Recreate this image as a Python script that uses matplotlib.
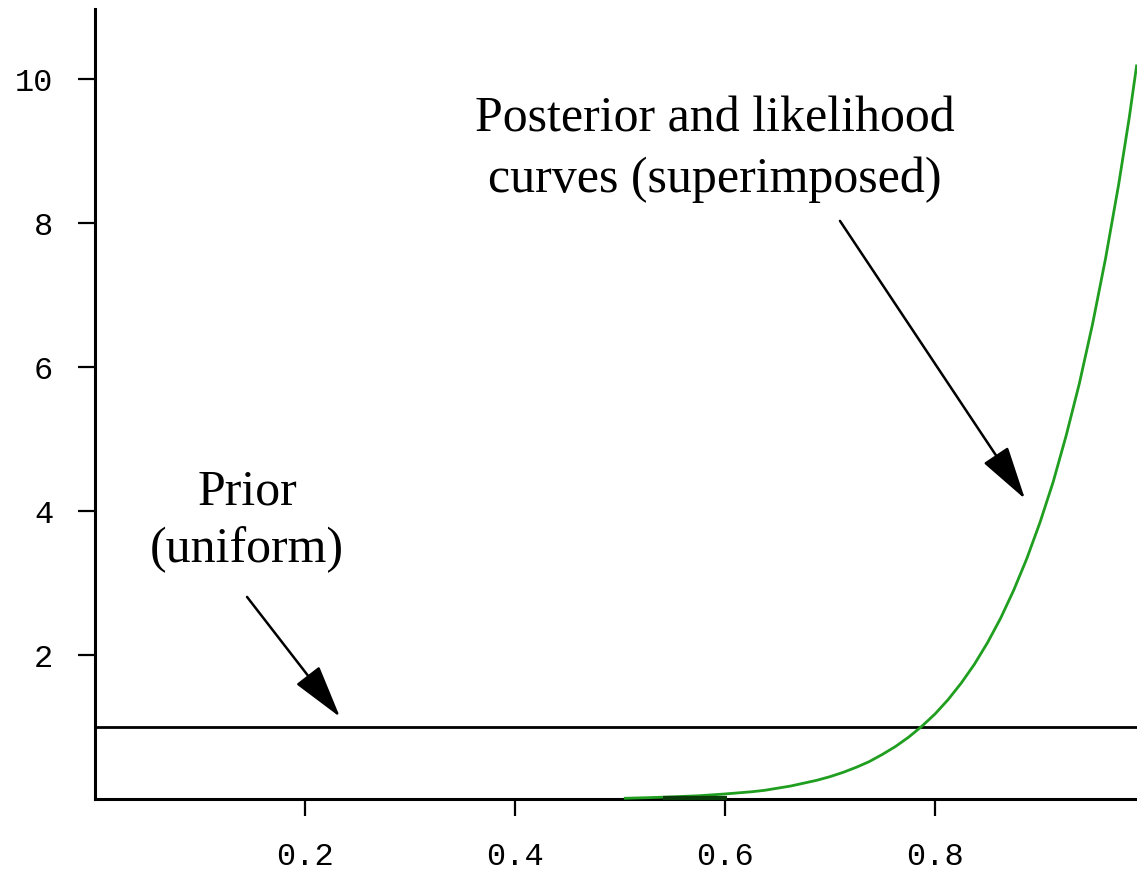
import matplotlib.pyplot as plt

# posterior / likelihood density over the proportion p
p_vals = [0.505, 0.53, 0.55, 0.575, 0.60, 0.625, 0.6375, 0.65, 0.6625, 0.675,
          0.6875, 0.70, 0.7125, 0.725, 0.7375, 0.75, 0.7625, 0.775, 0.7875,
          0.80, 0.8125, 0.825, 0.8375, 0.85, 0.8625, 0.875, 0.8875, 0.90,
          0.9125, 0.925, 0.9375, 0.95, 0.9625, 0.975, 0.985, 0.992]
density = [0.01, 0.02, 0.03, 0.045, 0.07, 0.10, 0.12, 0.15, 0.18, 0.22,
           0.26, 0.31, 0.37, 0.44, 0.52, 0.62, 0.73, 0.86, 1.01,
           1.18, 1.38, 1.61, 1.87, 2.17, 2.51, 2.90, 3.34, 3.84,
           4.40, 5.05, 5.77, 6.59, 7.51, 8.54, 9.46, 10.18]

# flat prior
prior_x = [0.0, 0.9924]
prior_y = [1.0, 1.0]

# short dark stretch where the curve sits on the axis
flat_x = [0.541, 0.602]
flat_y = [0.0, 0.0]

x_ticks = [0.2, 0.4, 0.6, 0.8]
y_ticks = [2, 4, 6, 8, 10]

fig = plt.figure(figsize=(11.37, 8.7), dpi=100)
ax = fig.add_axes([95 / 1137, 70 / 870, 1042 / 1137, 790 / 870])

ax.plot(prior_x, prior_y, color='black', lw=2.0, solid_capstyle='butt')
ax.plot(p_vals, density, color='#1f9e1f', lw=2.0, zorder=3, clip_on=False)
ax.plot(flat_x, [v + 0.02 for v in flat_y], color='#0a3a0a', lw=3.0,
        solid_capstyle='butt', zorder=3, clip_on=False)

ax.set_xlim(0, 0.9924)
ax.set_ylim(0, 10.97)

for side in ['top', 'right']:
    ax.spines[side].set_visible(False)
for side in ['left', 'bottom']:
    ax.spines[side].set_linewidth(2.2)

ax.set_xticks(x_ticks)
ax.set_xticklabels([f'{v:.1f}' for v in x_ticks])
ax.set_yticks(y_ticks)
ax.set_yticklabels([str(v) for v in y_ticks])
ax.tick_params(direction='out', length=12, width=1.6, pad=18,
               labelsize=23, colors='black')
for lbl in ax.get_xticklabels() + ax.get_yticklabels():
    lbl.set_family(['Liberation Mono', 'DejaVu Sans Mono'])

serif = ['Liberation Serif', 'DejaVu Serif']
arrow = dict(arrowstyle='-|>,head_length=0.8,head_width=0.22', color='black',
             lw=1.8, mutation_scale=42, shrinkA=0, shrinkB=0)

ax.text(0.1448, 3.875, 'Prior\n(uniform)', ha='center', va='center',
        fontsize=36, family=serif, linespacing=1.3)
ax.annotate('', xy=(0.2333, 1.139), xytext=(0.1448, 2.806), arrowprops=arrow)

ax.text(0.5905, 9.03, 'Posterior and likelihood\ncurves (superimposed)',
        ha='center', va='center', fontsize=36, family=serif, linespacing=1.4)
ax.annotate('', xy=(0.8857, 4.167), xytext=(0.7095, 8.028), arrowprops=arrow)

fig.savefig('out.png', dpi=100)
